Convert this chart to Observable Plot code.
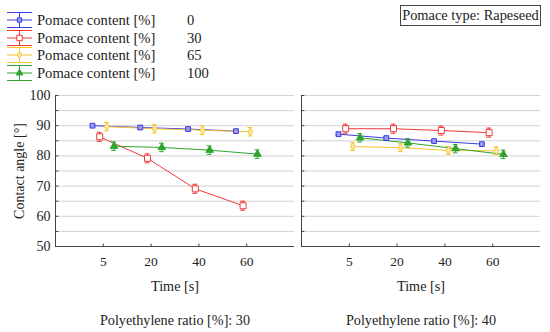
<!DOCTYPE html>
<html><head><meta charset="utf-8">
<script src="https://cdn.jsdelivr.net/npm/d3@7"></script>
<script src="https://cdn.jsdelivr.net/npm/@observablehq/plot@0.6"></script>
<style>
body{margin:0;background:#fff;font-family:"Liberation Serif","DejaVu Serif",serif;color:#222}
#wrap{width:550px;height:332px;position:relative;overflow:hidden}
#header{position:relative;height:88px}
.row{position:absolute;left:6px;height:18px;width:260px;font-size:14.6px;line-height:18px}
.row svg{position:absolute;left:0;top:0}
.row .lab{position:absolute;left:31px;top:0;white-space:nowrap}
.row .val{position:absolute;left:181px;top:0}
#box{position:absolute;left:400px;top:5px;width:139px;height:19px;border:1px solid #444;font-size:14.4px;line-height:19px;text-align:center;white-space:nowrap}
</style></head>
<body>
<div id="wrap"><div id="header"></div><div id="chart"></div></div>
<script>
// ---- data ----
const times = ["5", "20", "40", "60"];
const pomace = ["0", "30", "65", "100"];
const panels = ["30", "40"];
const colors = ["#3c3ce4", "#f03a3a", "#f7c432", "#2ea32e"];

// Polyethylene ratio 30 %
const pe30_p0   = [90.0, 89.4, 88.9, 88.2];
const pe30_p30  = [86.3, 79.2, 69.1, 63.5];
const pe30_p65  = [89.7, 89.0, 88.5, 88.0];
const pe30_p100 = [83.2, 82.8, 81.9, 80.6];
const pe30_err  = [0.5, 1.5, 1.4, 1.4];
// Polyethylene ratio 40 %
const pe40_p0   = [87.2, 85.9, 84.9, 83.9];
const pe40_p30  = [89.0, 89.0, 88.4, 87.7];
const pe40_p65  = [83.1, 82.7, 81.8, 81.7];
const pe40_p100 = [86.0, 84.3, 82.4, 80.5];
const pe40_err  = [0.5, 1.5, 1.3, 1.4];

const seriesByPanel = {"30": [pe30_p0, pe30_p30, pe30_p65, pe30_p100], "40": [pe40_p0, pe40_p30, pe40_p65, pe40_p100]};
const errByPanel = {"30": pe30_err, "40": pe40_err};

const rows = [];
for (const panel of panels) {
  seriesByPanel[panel].forEach((vals, si) => {
    vals.forEach((v, ti) => rows.push({panel, series: pomace[si], si, time: times[ti], ti, value: v, err: errByPanel[panel][si]}));
  });
}

// ---- style ----
const symbols = ["square", "square", "diamond", "triangle"];
const radii = [2.7, 3.4, 2.5, 2.8];
const fills = ["#9a9af2", "#ffffff", "#fde9a8", "#2ea32e"];
const dodge = 0.15;
const xPos = d => d.ti + 1 + (d.si - 1.5) * dodge;
const cap = 0.05;

// ---- legend ----
const header = d3.select("#header");
const legendCenters = [20, 37.5, 55, 72.5];
pomace.forEach((p, i) => {
  const row = header.append("div").attr("class", "row").style("top", (legendCenters[i] - 9) + "px");
  const svg = row.append("svg").attr("width", 28).attr("height", 18);
  const c = colors[i];
  svg.append("line").attr("x1", 1).attr("x2", 26).attr("y1", 1.5).attr("y2", 1.5).attr("stroke", c);
  svg.append("line").attr("x1", 1).attr("x2", 26).attr("y1", 9).attr("y2", 9).attr("stroke", c);
  svg.append("line").attr("x1", 1).attr("x2", 26).attr("y1", 16.5).attr("y2", 16.5).attr("stroke", c);
  svg.append("line").attr("x1", 13.5).attr("x2", 13.5).attr("y1", 1.5).attr("y2", 16.5).attr("stroke", c);
  const symType = {square: d3.symbolSquare, diamond: d3.symbolDiamond, triangle: d3.symbolTriangle}[symbols[i]];
  svg.append("path").attr("transform", "translate(13.5,9)")
    .attr("d", d3.symbol(symType, Math.PI * radii[i] * radii[i] * 0.8)())
    .attr("stroke", c).attr("fill", fills[i]);
  row.append("span").attr("class", "lab").text("Pomace content [%]");
  row.append("span").attr("class", "val").text(p);
});
header.append("div").attr("id", "box").text("Pomace type: Rapeseed");

// ---- chart ----
const dotMarks = pomace.map((p, i) => Plot.dot(rows.filter(d => d.si === i), {
  fx: "panel", x: xPos, y: "value", symbol: symbols[i], r: radii[i],
  stroke: colors[i], fill: fills[i], strokeWidth: 1
}));

const chart = Plot.plot({
  width: 550, height: 244,
  marginTop: 7, marginBottom: 86, marginLeft: 54, marginRight: 9,
  style: {fontFamily: "'Liberation Serif', serif", fontSize: "13px", background: "transparent", color: "#222"},
  fx: {domain: panels, paddingInner: 0.0283, paddingOuter: 0, label: null},
  x: {domain: [0, 5]},
  y: {domain: [50, 100]},
  color: {domain: pomace, range: colors},
  marks: [
    Plot.gridY(d3.range(55, 101, 5), {stroke: "#d2d2d2", strokeOpacity: 1}),
    Plot.ruleX([0], {y1: 50, y2: 100, stroke: "#444"}),
    Plot.ruleY([50], {stroke: "#444"}),
    Plot.ruleY(d3.range(50, 101, 5), {x1: 0, x2: 0.07, stroke: "#444"}),
    Plot.ruleX([1, 2, 3, 4], {y1: 50, y2: 50.8, stroke: "#444"}),
    Plot.axisY(d3.range(50, 101, 10), {tickSize: 0, tickPadding: 5, fontSize: 14,
      label: "Contact angle [°]", labelAnchor: "center", labelArrow: "none", labelOffset: 41}),
    Plot.axisX([1, 2, 3, 4], {tickSize: 0, tickPadding: 10, fontSize: 13.5, tickFormat: d => times[d - 1], label: null}),
    Plot.axisFx({anchor: "bottom", tickSize: 0, tickPadding: 68, fontSize: 14.2,
      tickFormat: d => `Polyethylene ratio [%]: ${d}`, label: null}),
    Plot.text(["Time [s]"], {frameAnchor: "bottom", dy: 44, fontSize: 14.2, fill: "#222"}),
    Plot.line(rows, {fx: "panel", x: xPos, y: "value", z: "series", stroke: "series", strokeWidth: 1}),
    Plot.ruleX(rows, {fx: "panel", x: xPos, y1: d => d.value - d.err, y2: d => d.value + d.err, stroke: "series"}),
    Plot.ruleY(rows, {fx: "panel", y: d => d.value + d.err, x1: d => xPos(d) - cap, x2: d => xPos(d) + cap, stroke: "series"}),
    Plot.ruleY(rows, {fx: "panel", y: d => d.value - d.err, x1: d => xPos(d) - cap, x2: d => xPos(d) + cap, stroke: "series"}),
    ...dotMarks
  ]
});
document.getElementById("chart").appendChild(chart);
</script>
</body></html>
